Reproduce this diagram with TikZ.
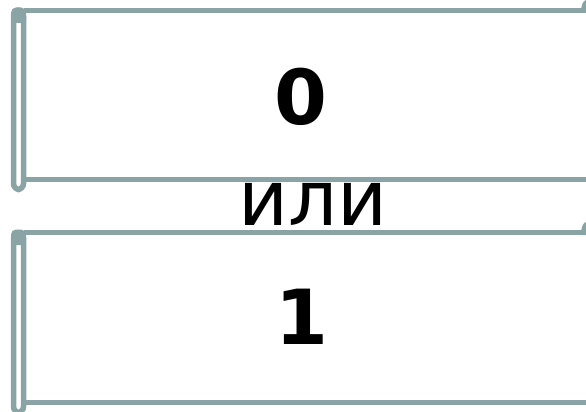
\documentclass[tikz,border=0pt]{standalone}
\usepackage{fontspec}
\setmainfont{DejaVu Sans}
\usepackage{tikz}
\usetikzlibrary{positioning}
\definecolor{rollgray}{RGB}{138,164,165}

\begin{document}
\begin{tikzpicture}[
    x=1pt, y=-1pt,
    rollline/.style={draw=rollgray, line width=5.5pt},
    bigtext/.style={font=\fontsize{77}{77}\selectfont, inner sep=0pt, anchor=base},
    digit/.style={bigtext, font=\bfseries\fontsize{76}{76}\selectfont}
]
\useasboundingbox (0,0) rectangle (586,412);

% scrolls
\foreach \oy/\h in {0/169, 222/170}{
  \begin{scope}[yshift=-\oy pt]
    \draw[rollline] (24,10.5) -- (586,10.5);
    \draw[rollline] (24,10.5+\h) -- (586,10.5+\h);
    \draw[rollline, rounded corners=6pt] (13.5,10.5) rectangle (23.5,10.5+\h+10);
    \fill[rollgray, rounded corners=5pt] (11,23) -- (11,7.5) -- (26,7.5) -- (26,23) -- cycle;
    \fill[rollgray] (581,13) .. controls (581,5) and (583,1) .. (586,0) -- (586,13) -- cycle;
  \end{scope}
}

\node[digit] (zero) at (301,124) {0};
\node[bigtext] (or) at (313,225) {или};
\node[digit] (one) at (302,344) {1};
\end{tikzpicture}
\end{document}
